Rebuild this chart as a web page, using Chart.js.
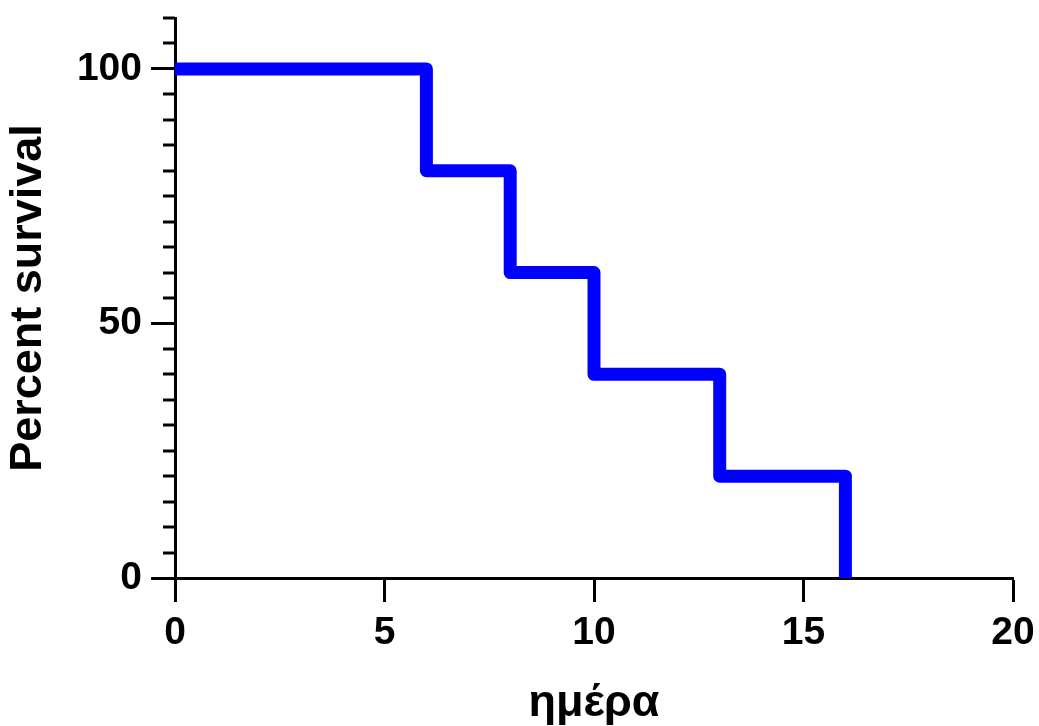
<!DOCTYPE html>
<html lang="el">
<head>
    <meta charset="UTF-8">
    <title>Percent survival</title>
    <script src="https://cdn.jsdelivr.net/npm/chart.js"></script>
    <style>
        html, body {margin: 0; padding: 0; background: #fff;}
        .wrap {position: relative; width: 1039px; height: 726px;}
    </style>
</head>
<body>
    <div class="wrap"><canvas id="survivalChart"></canvas></div>
    <script>
        // Kaplan-Meier curve: day of each event and survival after it
        const days = [0, 6, 8, 10, 13, 16];
        const survival = [100, 80, 60, 40, 20, 0];
        const xTicks = [0, 5, 10, 15, 20];
        const yLabels = [0, 50, 100];
        const yMinorStep = 5;

        const font = 'Liberation Sans, Arial, Helvetica, sans-serif';

        // short minor ticks on the y axis (labelled ticks use the longer grid ticks)
        const minorTicks = {
            id: 'minorTicks',
            afterDraw(chart) {
                const y = chart.scales.y;
                const ctx = chart.ctx;
                const left = chart.chartArea.left;
                ctx.save();
                ctx.strokeStyle = '#000';
                ctx.lineWidth = 3;
                for (let v = y.min; v <= y.max; v += yMinorStep) {
                    if (yLabels.includes(v)) continue;
                    const py = Math.round(y.getPixelForValue(v));
                    ctx.beginPath();
                    ctx.moveTo(left - 12, py);
                    ctx.lineTo(left, py);
                    ctx.stroke();
                }
                ctx.restore();
            }
        };

        new Chart(document.getElementById('survivalChart'), {
            type: 'line',
            data: {
                datasets: [{
                    data: days.map((d, i) => ({x: d, y: survival[i]})),
                    stepped: 'before',
                    borderColor: '#0000ff',
                    borderWidth: 13,
                    borderJoinStyle: 'round',
                    pointRadius: 0,
                    fill: false
                }]
            },
            options: {
                responsive: true,
                maintainAspectRatio: false,
                animation: false,
                layout: {padding: {top: 18, right: 26, bottom: 0, left: 0}},
                plugins: {legend: {display: false}, tooltip: {enabled: false}},
                scales: {
                    x: {
                        type: 'linear',
                        min: 0,
                        max: 20,
                        afterBuildTicks: s => { s.ticks = xTicks.map(v => ({value: v})); },
                        afterFit: s => { s.height = 148; s.paddingLeft = 0; s.paddingRight = 0; },
                        grid: {drawOnChartArea: false, tickLength: 24, tickWidth: 3, tickColor: '#000'},
                        border: {display: true, width: 3, color: '#000'},
                        ticks: {color: '#000', padding: 8, maxRotation: 0, font: {family: font, size: 39, weight: 'bold'}},
                        title: {display: true, text: 'ημέρα', color: '#000', padding: {top: 0, bottom: 0},
                            font: {family: font, size: 45, weight: 'bold', lineHeight: 1}}
                    },
                    y: {
                        min: 0,
                        max: 110,
                        afterBuildTicks: s => { s.ticks = yLabels.map(v => ({value: v})); },
                        afterFit: s => { s.width = 175; s.paddingTop = 0; s.paddingBottom = 0; },
                        grid: {drawOnChartArea: false, tickLength: 24, tickWidth: 3, tickColor: '#000'},
                        border: {display: true, width: 3, color: '#000'},
                        ticks: {color: '#000', padding: 9, font: {family: font, size: 39, weight: 'bold'}},
                        title: {display: true, text: 'Percent survival', color: '#000', padding: {top: 6, bottom: 0},
                            font: {family: font, size: 45, weight: 'bold', lineHeight: 1}}
                    }
                }
            },
            plugins: [minorTicks]
        });
    </script>
</body>
</html>
